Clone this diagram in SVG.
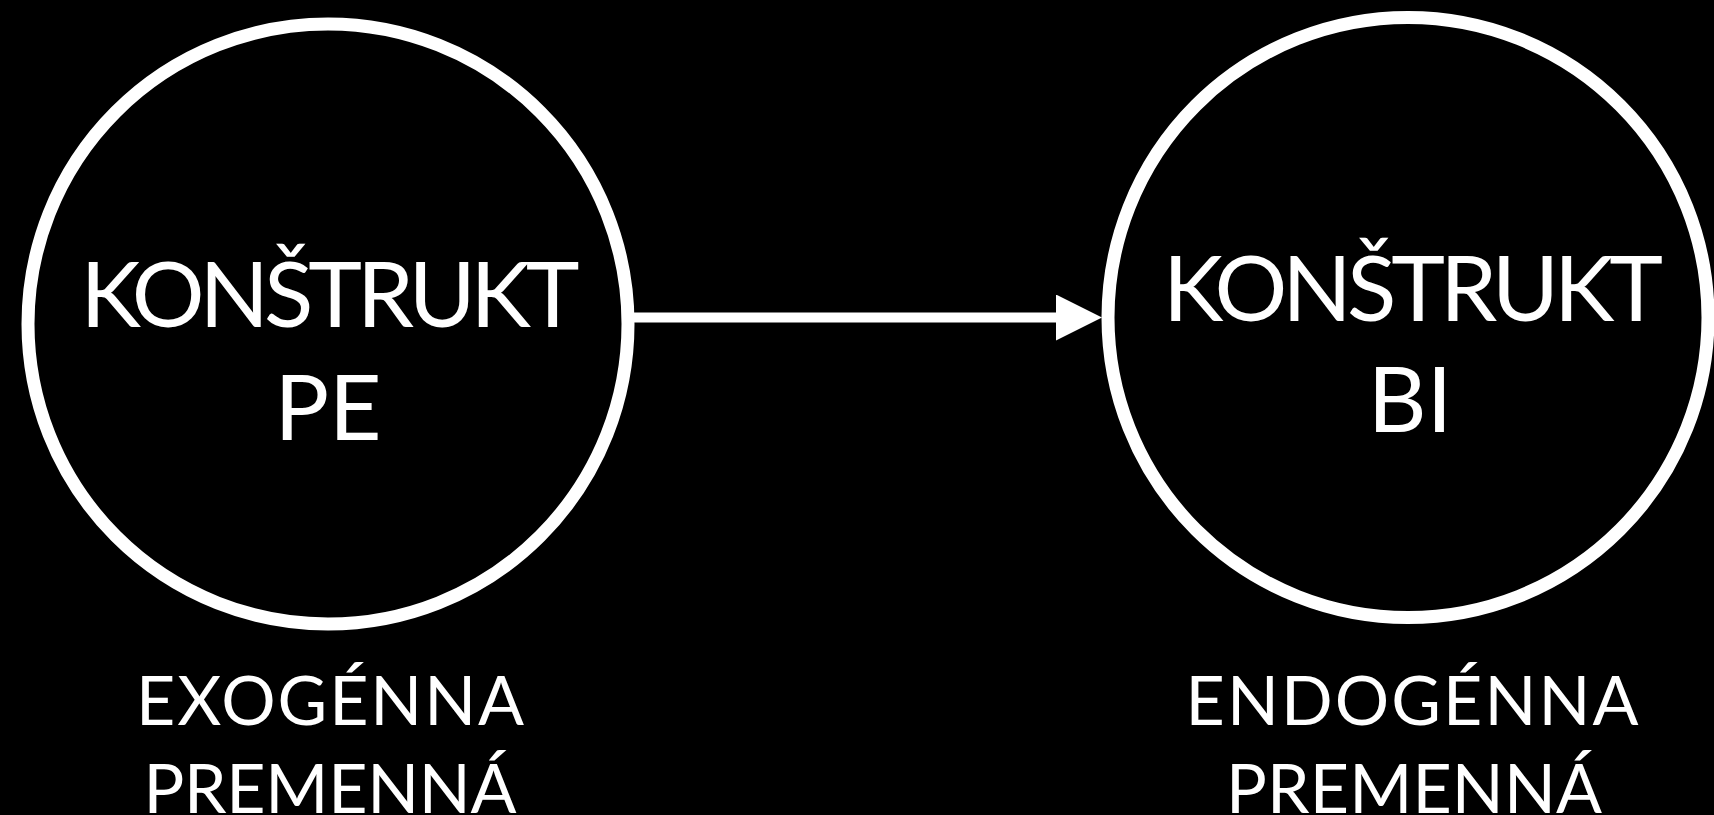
<svg xmlns="http://www.w3.org/2000/svg" width="1714" height="815" viewBox="0 0 1714 815">
<style>
.node{fill:#000;stroke:#fff;stroke-width:13}
.t{fill:#fff;font-family:Lato,"Noto Sans","Liberation Sans",sans-serif;text-anchor:middle}
.big{font-size:91px}
.small{font-size:68px}
.conn{stroke:#fff;stroke-width:10;fill:none}
</style>
<defs>
<marker id="ah" markerUnits="userSpaceOnUse" markerWidth="46" markerHeight="46" viewBox="0 0 45 45" refX="1" refY="22.5" orient="auto">
<path d="M0,0 L45,22.5 L0,45 Z" fill="#fff"/>
</marker>
</defs>
<rect width="1714" height="815" fill="#000"/>
<g id="connectors">
<line class="conn" x1="630" y1="317.5" x2="1057" y2="317.5" marker-end="url(#ah)"/>
</g>
<g id="node-pe">
<circle class="node" cx="328" cy="324" r="300"/>
<text class="t big" x="330" y="327" textLength="499">KONŠTRUKT</text>
<text class="t big" x="328" y="440">PE</text>
</g>
<g id="node-bi">
<circle class="node" cx="1408" cy="317.5" r="300"/>
<text class="t big" x="1413" y="321" textLength="500">KONŠTRUKT</text>
<text class="t big" x="1410" y="432">BI</text>
</g>
<g id="label-exo">
<text class="t small" x="330" y="725" textLength="388">EXOGÉNNA</text>
<text class="t small" x="330" y="813" textLength="373">PREMENNÁ</text>
</g>
<g id="label-endo">
<text class="t small" x="1412" y="725" textLength="453">ENDOGÉNNA</text>
<text class="t small" x="1414" y="813" textLength="376">PREMENNÁ</text>
</g>
</svg>
